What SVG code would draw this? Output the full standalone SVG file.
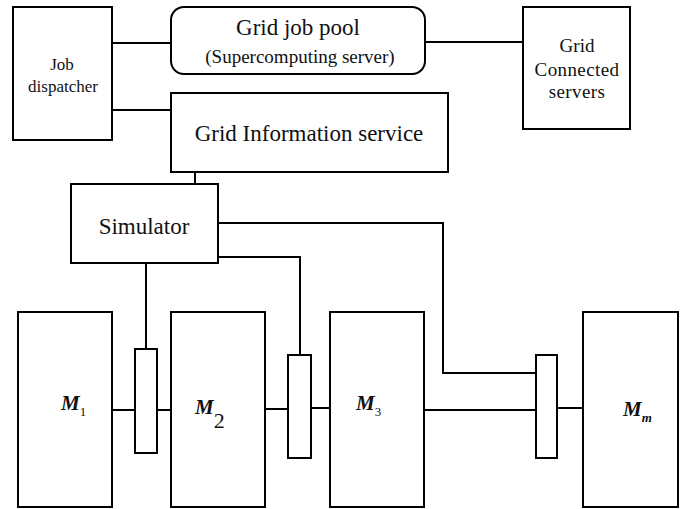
<svg xmlns="http://www.w3.org/2000/svg" width="684" height="509" viewBox="0 0 684 509" font-family="'Liberation Serif', 'DejaVu Serif', serif">
<style>
.box{fill:#fff;stroke:#000;stroke-width:2}
.ln{fill:none;stroke:#000;stroke-width:2}
text{font-family:'Liberation Serif','DejaVu Serif',serif;fill:#111;text-anchor:middle}
.m{font-style:italic;font-weight:bold;font-size:21px;text-anchor:start}
.s{font-size:13px}
</style>
<rect width="684" height="509" fill="#fff"/>
<g id="connectors">
<line class="ln" x1="112" y1="43" x2="171" y2="43"/>
<line class="ln" x1="425" y1="42" x2="523" y2="42"/>
<line class="ln" x1="112" y1="110" x2="171" y2="110"/>
<line class="ln" x1="195" y1="172" x2="195" y2="184"/>
<polyline class="ln" points="218,223 443,223 443,373 536,373"/>
<polyline class="ln" points="218,257 300,257 300,355"/>
<line class="ln" x1="146" y1="263" x2="146" y2="349"/>
<line class="ln" x1="112" y1="410" x2="135" y2="410"/>
<line class="ln" x1="157" y1="410" x2="171" y2="410"/>
<line class="ln" x1="265" y1="409" x2="288" y2="409"/>
<line class="ln" x1="311" y1="408" x2="330" y2="408"/>
<line class="ln" x1="424" y1="410" x2="536" y2="410"/>
<line class="ln" x1="557" y1="408" x2="583" y2="408"/>
</g>
<g id="job-dispatcher">
<rect class="box" x="13" y="7" width="99" height="133"/>
<text x="62" y="70" font-size="17">Job</text>
<text x="63" y="92" font-size="17">dispatcher</text>
</g>
<g id="grid-job-pool">
<rect class="box" x="171" y="7" width="254" height="67" rx="13"/>
<text x="298" y="35" font-size="23">Grid job pool</text>
<text x="300" y="63" font-size="19">(Supercomputing server)</text>
</g>
<g id="grid-connected-servers">
<rect class="box" x="523" y="7" width="107" height="122"/>
<text x="577" y="52" font-size="19">Grid</text>
<text x="577" y="76" font-size="19" letter-spacing="0.4">Connected</text>
<text x="577" y="98" font-size="19" letter-spacing="0.4">servers</text>
</g>
<g id="grid-information-service">
<rect class="box" x="171" y="93" width="277" height="79"/>
<text x="309" y="141" font-size="23">Grid Information service</text>
</g>
<g id="simulator">
<rect class="box" x="71" y="184" width="147" height="79"/>
<text x="144" y="234" font-size="23">Simulator</text>
</g>
<g id="m1">
<rect class="box" x="18" y="312" width="94" height="195"/>
<text class="m" x="61" y="410">M<tspan class="s" dy="6" font-style="normal" font-weight="normal">1</tspan></text>
</g>
<g id="b1"><rect class="box" x="135" y="349" width="22" height="104"/></g>
<g id="m2">
<rect class="box" x="171" y="312" width="94" height="195"/>
<text class="m" x="195" y="414">M<tspan dy="14" font-style="normal" font-weight="normal" font-size="22">2</tspan></text>
</g>
<g id="b2"><rect class="box" x="288" y="355" width="23" height="103"/></g>
<g id="m3">
<rect class="box" x="330" y="312" width="94" height="195"/>
<text class="m" x="356" y="410">M<tspan class="s" dy="6" font-style="normal" font-weight="normal">3</tspan></text>
</g>
<g id="b3"><rect class="box" x="536" y="355" width="21" height="103"/></g>
<g id="mm">
<rect class="box" x="583" y="312" width="95" height="195"/>
<text class="m" x="623" y="416">M<tspan class="s" dy="6">m</tspan></text>
</g>
</svg>
